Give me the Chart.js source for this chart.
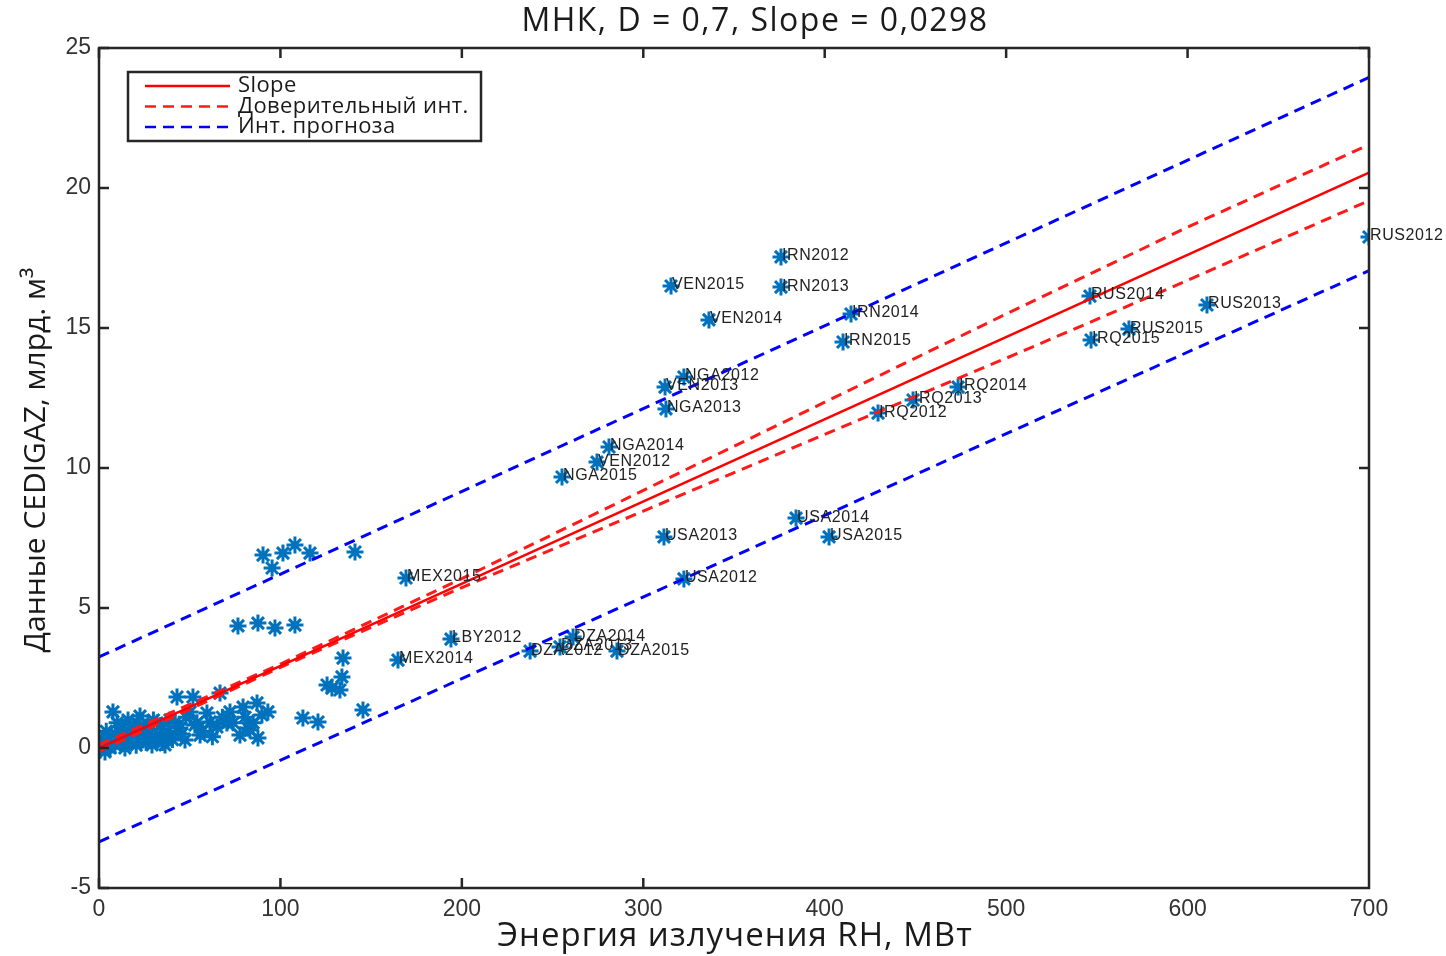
<!DOCTYPE html>
<html lang="ru">
<head>
<meta charset="utf-8">
<title>МНК, D = 0,7, Slope = 0,0298</title>
<script src="https://cdn.jsdelivr.net/npm/chart.js@4.4.1/dist/chart.umd.min.js"></script>
<style>
  html, body { margin: 0; padding: 0; background: #fff; }
</style>
</head>
<body>
<canvas id="graph1" width="1446" height="956"></canvas>
<script>
// Страны-экспортёры: энергия излучения RH (МВт) и данные CEDIGAZ (млрд. м3)
const countryNames = ['RUS2012', 'RUS2013', 'RUS2014', 'RUS2015', 'IRQ2012', 'IRQ2013', 'IRQ2014', 'IRQ2015',
    'IRN2012', 'IRN2013', 'IRN2014', 'IRN2015', 'VEN2012', 'VEN2013', 'VEN2014', 'VEN2015',
    'NGA2012', 'NGA2013', 'NGA2014', 'NGA2015', 'USA2012', 'USA2013', 'USA2014', 'USA2015',
    'MEX2014', 'MEX2015', 'LBY2012', 'DZA2012', 'DZA2013', 'DZA2014', 'DZA2015'];
const countryRH = [700, 610.7, 546.2, 567.7, 429.4, 448.7, 473.5, 546.8,
    375.9, 375.9, 414.5, 410.1, 274.5, 312.0, 336.2, 315.3,
    322.4, 312.5, 281.1, 255.2, 322.4, 311.4, 384.2, 402.4,
    164.8, 169.2, 194.0, 237.6, 254.1, 261.3, 285.5];
const countryGas = [18.25, 15.82, 16.14, 14.96, 11.96, 12.43, 12.89, 14.57,
    17.54, 16.46, 15.5, 14.5, 10.21, 12.89, 15.29, 16.5,
    13.25, 12.11, 10.75, 9.68, 6.04, 7.54, 8.21, 7.54,
    3.14, 6.07, 3.89, 3.46, 3.61, 3.96, 3.46];

// остальные наблюдения без подписей
const otherRH = [0.6, 2.2, 3.3, 5.0, 6.1, 7.7, 8.8, 11.6, 14.3, 17.1, 19.8, 22.6, 24.3, 27.0, 29.2,
    32.0, 33.6, 36.4, 37.5, 39.1, 43.0, 44.6, 47.4, 50.2, 51.8, 52.9, 55.7, 59.5, 61.2,
    65.0, 66.7, 70.5, 72.2, 77.7, 79.4, 82.1, 83.2, 87.1, 87.6, 89.8, 93.1,
    1.5, 4.0, 9.0, 10.0, 12.5, 13.0, 15.5, 16.0, 18.0, 20.5, 21.0, 23.0, 25.5, 26.0,
    28.0, 30.0, 31.0, 34.0, 35.0, 38.0, 40.5, 42.0, 45.5, 48.0, 54.0, 57.0, 62.5, 68.0,
    74.0, 80.5, 85.0,
    76.6, 87.6, 97.0, 108.0, 90.4, 95.4, 101.4, 108.0, 116.3, 141.1,
    112.4, 120.7, 125.7, 128.4, 132.8, 133.9, 134.5, 145.5];
const otherGas = [-0.07, 0.11, -0.14, 0.29, 0.0, 1.29, 0.11, 0.46, 0.0, 0.21, 0.64, 1.14, 0.29, 0.82, 0.11,
    0.89, 0.46, 0.11, 0.39, 1.0, 1.82, 0.71, 0.29, 1.29, 1.82, 0.82, 0.46, 1.25, 0.93,
    0.75, 1.96, 0.89, 1.29, 0.46, 1.46, 0.71, 0.64, 1.61, 0.36, 1.18, 1.29,
    0.3, 0.6, 0.5, 0.9, 0.2, 0.7, 0.4, 1.0, 0.5, 0.1, 0.9, 0.4, 0.7, 0.2,
    0.5, 1.0, 0.3, 0.8, 0.2, 0.6, 0.3, 0.9, 0.5, 1.1, 0.9, 0.6, 0.4, 1.1,
    0.9, 1.1, 0.9,
    4.36, 4.46, 4.29, 4.39, 6.89, 6.43, 6.96, 7.25, 6.96, 7.0,
    1.07, 0.93, 2.25, 2.14, 2.07, 2.54, 3.21, 1.36];

// линия регрессии, доверительный интервал и интервал прогноза
const fitX = [0, 700];
const fitY = [0, 20.55];
const ciX = [0, 100, 200, 300, 400, 500, 600, 700];
const ciUpper = [0.12, 3.0, 6.05, 9.2, 12.35, 15.5, 18.6, 21.55];
const ciLower = [-0.12, 2.88, 5.73, 8.46, 11.2, 13.92, 16.7, 19.55];
const predX = [0, 700];
const predUpper = [3.25, 23.95];
const predLower = [-3.35, 17.05];

const xTickVals = [0, 100, 200, 300, 400, 500, 600, 700];
const yTickVals = [-5, 0, 5, 10, 15, 20, 25];

const starColor = '#0072BD';
const toPoints = (xs, ys) => xs.map((v, i) => ({ x: v, y: ys[i] }));

function lineSet(label, xs, ys, color, dash) {
    return {
        label: label,
        data: toPoints(xs, ys),
        showLine: true,
        borderColor: color,
        borderWidth: dash ? 3 : 2.5,
        borderDash: dash || [],
        pointRadius: 0,
        fill: false,
        order: 1
    };
}

function starSet(label, xs, ys, order) {
    return {
        label: label,
        data: toPoints(xs, ys),
        pointStyle: 'star',
        pointRadius: 8.5,
        borderColor: starColor,
        backgroundColor: starColor,
        borderWidth: 3,
        order: order
    };
}

// подписи стран справа от точек
const countryLabels = {
    id: 'countryLabels',
    afterDatasetsDraw(chart) {
        const ctx = chart.ctx;
        const meta = chart.getDatasetMeta(0);
        ctx.save();
        ctx.font = '16px "Liberation Sans", Arial, sans-serif';
        ctx.letterSpacing = '0.6px';
        ctx.fillStyle = '#222';
        ctx.textBaseline = 'middle';
        meta.data.forEach((pt, i) => {
            ctx.fillText(countryNames[i], pt.x + 1, pt.y - 1);
        });
        ctx.restore();
    }
};

// рамка осей с тиками внутрь, заголовки и легенда
const frame = {
    id: 'frame',
    afterDraw(chart) {
        const { ctx, chartArea: a, scales: { x, y } } = chart;
        ctx.save();
        ctx.strokeStyle = '#262626';
        ctx.lineWidth = 2.5;
        ctx.strokeRect(a.left, a.top, a.right - a.left, a.bottom - a.top);

        ctx.beginPath();
        xTickVals.forEach(v => {
            const px = x.getPixelForValue(v);
            ctx.moveTo(px, a.top);
            ctx.lineTo(px, a.top + 10);
            if (v <= 300) {
                ctx.moveTo(px, a.bottom);
                ctx.lineTo(px, a.bottom - 10);
            }
        });
        yTickVals.forEach(v => {
            const py = y.getPixelForValue(v);
            ctx.moveTo(a.left, py);
            ctx.lineTo(a.left + 10, py);
            if (v >= 10) {
                ctx.moveTo(a.right, py);
                ctx.lineTo(a.right - 10, py);
            }
        });
        ctx.stroke();

        ctx.fillStyle = '#1a1a1a';
        ctx.textAlign = 'center';
        ctx.textBaseline = 'middle';
        ctx.font = '32px "Open Sans", sans-serif';
        ctx.letterSpacing = '1.5px';
        ctx.fillText('МНК, D = 0,7, Slope = 0,0298', 755, 22);
        ctx.font = '33px "Open Sans", sans-serif';
        ctx.letterSpacing = '1px';
        ctx.fillText('Энергия излучения RH, МВт', 735, 937);

        ctx.letterSpacing = '0px';
        ctx.font = '30px "Open Sans", sans-serif';
        ctx.save();
        ctx.translate(36, 460);
        ctx.rotate(-Math.PI / 2);
        ctx.fillText('Данные CEDIGAZ, млрд. м³', 0, 0);
        ctx.restore();

        // легенда
        const lx = 128, ly = 72, lw = 353, lh = 69;
        ctx.fillStyle = '#fff';
        ctx.fillRect(lx, ly, lw, lh);
        ctx.lineWidth = 2.5;
        ctx.strokeStyle = '#262626';
        ctx.strokeRect(lx, ly, lw, lh);
        ctx.font = '22px "Open Sans", sans-serif';
        ctx.letterSpacing = '0.4px';
        ctx.textAlign = 'left';
        const items = chart.data.datasets.filter(d => d.legend);
        items.forEach((d, i) => {
            const ry = ly + 14 + i * 20.5;
            ctx.strokeStyle = d.borderColor;
            ctx.lineWidth = 2.5;
            ctx.setLineDash(d.borderDash);
            ctx.beginPath();
            ctx.moveTo(lx + 17, ry);
            ctx.lineTo(lx + 102, ry);
            ctx.stroke();
            ctx.setLineDash([]);
            ctx.fillStyle = '#1a1a1a';
            ctx.fillText(d.label, lx + 110, ry);
        });
        ctx.restore();
    }
};

const slope = lineSet('Slope', fitX, fitY, '#ff0000', null);
slope.legend = true;
const ciUp = lineSet('Доверительный инт.', ciX, ciUpper, '#ff1a1a', [11, 7]);
ciUp.legend = true;
const ciLow = lineSet('Доверительный инт. (ниж.)', ciX, ciLower, '#ff1a1a', [11, 7]);
const predUp = lineSet('Инт. прогноза', predX, predUpper, '#0000ff', [11, 7]);
predUp.legend = true;
const predLow = lineSet('Инт. прогноза (ниж.)', predX, predLower, '#0000ff', [11, 7]);

const tickFont = { family: '"Liberation Sans", Arial, sans-serif', size: 23 };

new Chart(document.getElementById('graph1').getContext('2d'), {
    type: 'scatter',
    data: {
        datasets: [
            starSet('Страны', countryRH, countryGas, 5),
            starSet('Прочие', otherRH, otherGas, 6),
            slope, ciUp, ciLow, predUp, predLow
        ]
    },
    options: {
        responsive: false,
        animation: false,
        layout: { padding: { left: 0, right: 77, top: 48, bottom: 0 } },
        plugins: {
            legend: { display: false },
            tooltip: { enabled: false }
        },
        scales: {
            x: {
                type: 'linear',
                min: 0,
                max: 700,
                grid: { display: false, drawTicks: false },
                border: { display: false },
                ticks: { stepSize: 100, font: tickFont, color: '#333', padding: 8, maxRotation: 0 },
                afterFit: (scale) => { scale.height = 68; }
            },
            y: {
                type: 'linear',
                min: -5,
                max: 25,
                grid: { display: false, drawTicks: false },
                border: { display: false },
                ticks: { stepSize: 5, font: tickFont, color: '#333', padding: 8 },
                afterFit: (scale) => { scale.width = 99; }
            }
        }
    },
    plugins: [countryLabels, frame]
});
</script>
</body>
</html>
